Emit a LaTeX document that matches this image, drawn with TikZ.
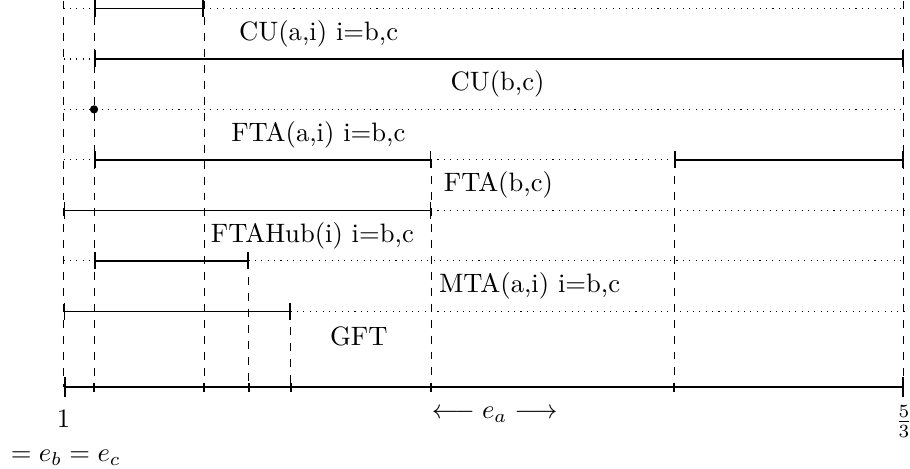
\documentclass[tikz,border=0pt]{standalone}
\usepackage{xcolor}
\usepackage{tikz}
\usetikzlibrary{positioning}

\begin{document}
\begin{tikzpicture}[
  span/.style={|-|, semithick},
  idle/.style={dotted},
  guide/.style={dashed},
  axis/.style={|-|, thick},
  dot/.style={circle, fill, inner sep=1.1pt}
]
\useasboundingbox (-0.839,-1.07) rectangle (11.18,5.112);

% axis ends
\coordinate (ax0) at (0,0);
\coordinate (ax1) at (11.1,0);

% vertical guides
\draw[guide] (0,5.1) -- (ax0);
\draw[guide] (0.403,5.1) -- (0.403,0);
\draw[guide] (1.856,5.1) -- (1.856,0);
\draw[guide] (2.444,1.667) -- (2.444,0);
\draw[guide] (2.999,1) -- (2.999,0);
\draw[guide] (4.855,3) -- (4.855,0);
\draw[guide] (8.065,3) -- (8.065,0);
\draw[guide] (11.1,5.1) -- (ax1);

% row 1
\draw[idle] (0,5) -- (0.403,5);
\draw[span] (0.403,5) -- (1.856,5);
\draw[idle] (1.856,5) -- (11.1,5);
% row 2
\draw[idle] (0,4.333) -- (0.403,4.333);
\draw[span] (0.403,4.333) -- (11.1,4.333);
% row 3
\draw[idle] (0,3.667) -- (11.1,3.667);
\node[dot] (start) at (0.403,3.667) {};
% row 4
\draw[idle] (0,3) -- (0.403,3);
\draw[span] (0.403,3) -- (4.855,3);
\draw[idle] (4.855,3) -- (8.065,3);
\draw[span] (8.065,3) -- (11.1,3);
% row 5
\draw[span] (0,2.333) -- (4.855,2.333);
\draw[idle] (4.855,2.333) -- (11.1,2.333);
% row 6
\draw[idle] (0,1.667) -- (0.403,1.667);
\draw[span] (0.403,1.667) -- (2.444,1.667);
\draw[idle] (2.444,1.667) -- (11.1,1.667);
% row 7
\draw[span] (0,1) -- (2.999,1);
\draw[idle] (2.999,1) -- (11.1,1);

% labels
\node (cu_ai) at (3.37,4.667) {CU(a,i) i=b,c};
\node (cu_bc) at (5.733,4) {CU(b,c)};
\node (fta_ai) at (3.366,3.333) {FTA(a,i) i=b,c};
\node (fta_bc) at (5.744,2.667) {FTA(b,c)};
\node (fta_hub) at (3.287,2) {FTAHub(i) i=b,c};
\node (mta_ai) at (6.156,1.333) {MTA(a,i) i=b,c};
\node (gft) at (3.9,0.667) {GFT};

% axis
\draw[axis] (ax0) -- (ax1);
\draw[thick] (0.403,0.06) -- (0.403,-0.06);
\draw[thick] (1.856,0.06) -- (1.856,-0.06);
\draw[thick] (2.444,0.06) -- (2.444,-0.06);
\draw[thick] (2.999,0.06) -- (2.999,-0.06);
\draw[thick] (4.855,0.06) -- (4.855,-0.06);
\draw[thick] (8.065,0.06) -- (8.065,-0.06);

\node[below=0.17cm of ax0] (one) {1};
\node[below=0.12cm of ax1] (five_thirds) {$\frac{5}{3}$};
\node[anchor=west] (e_a) at (4.74,-0.37) {$\longleftarrow e_a \longrightarrow$};
\node (e_bc) at (0.03,-0.93) {$= e_b = e_c$};

\end{tikzpicture}
\end{document}
